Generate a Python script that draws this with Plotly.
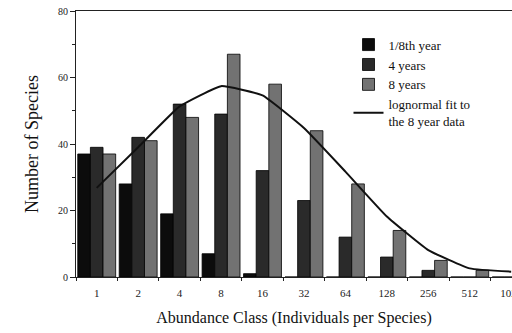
import plotly.graph_objects as go

# Abundance classes (individuals per species, octave bins)
classes = ["1", "2", "4", "8", "16", "32", "64", "128", "256", "512", "1024"]

# Number of species per abundance class
eighth_year = [37, 28, 19, 7, 1, 0, 0, 0, 0, 0, 0]
four_years = [39, 42, 52, 49, 32, 23, 12, 6, 2, 0, 0]
eight_years = [37, 41, 48, 67, 58, 44, 28, 14, 5, 2, 0]

# Lognormal fit to the 8 year data
lognormal_fit = [26.8, 39, 51.3, 57.4, 54.6, 44.8, 31.7, 18.2, 8.1, 2.6, 1.6]

pos = list(range(len(classes)))
serif = "Liberation Serif"

fig = go.Figure()
bar_line = dict(color="#000000", width=0.8)
fig.add_trace(go.Bar(x=pos, y=eighth_year, name="1/8th year",
                     marker=dict(color="#0c0c0c", line=bar_line)))
fig.add_trace(go.Bar(x=pos, y=four_years, name="4 years",
                     marker=dict(color="#2a2a2a", line=bar_line)))
fig.add_trace(go.Bar(x=pos, y=eight_years, name="8 years",
                     marker=dict(color="#727272", line=bar_line)))
fig.add_trace(go.Scatter(x=pos, y=lognormal_fit, mode="lines",
                         name="lognormal fit to<br>the 8 year data",
                         line=dict(color="#111111", width=2, shape="spline", smoothing=0.35)))

fig.update_layout(
    width=512, height=333,
    margin=dict(l=76, r=0, t=11, b=56),
    paper_bgcolor="white", plot_bgcolor="white",
    barmode="group", bargap=0.085, bargroupgap=0,
    font=dict(family=serif, color="#111111"),
    showlegend=True,
    legend=dict(x=0.625, y=0.93, xanchor="left", yanchor="top",
                font=dict(family=serif, size=13, color="#111111"),
                bgcolor="rgba(0,0,0,0)", tracegroupgap=0, itemwidth=30),
)

fig.update_xaxes(
    range=[-0.5, 10.02],
    tickmode="array", tickvals=pos, ticktext=classes,
    ticks="", tickfont=dict(family=serif, size=11, color="#222222"),
    ticklabeloverflow="allow", ticklabelstandoff=6,
    showline=True, linecolor="#222222", linewidth=1.2, mirror=True,
    showgrid=False, zeroline=False,
    minor=dict(tick0=0.5, dtick=1, ticks="outside", ticklen=3, tickcolor="#222222"),
    title=dict(text="Abundance Class (Individuals per Species)",
               font=dict(family=serif, size=16, color="#111111"), standoff=13),
    automargin=False,
)
fig.update_yaxes(
    range=[0, 80],
    tickvals=[0, 20, 40, 60, 80],
    ticks="outside", ticklen=5, tickcolor="#222222",
    tickfont=dict(family=serif, size=10, color="#222222"),
    showline=True, linecolor="#222222", linewidth=1.2,
    showgrid=False, zeroline=False,
    minor=dict(dtick=10, ticks="outside", ticklen=3, tickcolor="#222222"),
    title=dict(text="Number of Species",
               font=dict(family=serif, size=18, color="#111111"), standoff=14),
    automargin=False,
)

fig.write_html("out.html")
